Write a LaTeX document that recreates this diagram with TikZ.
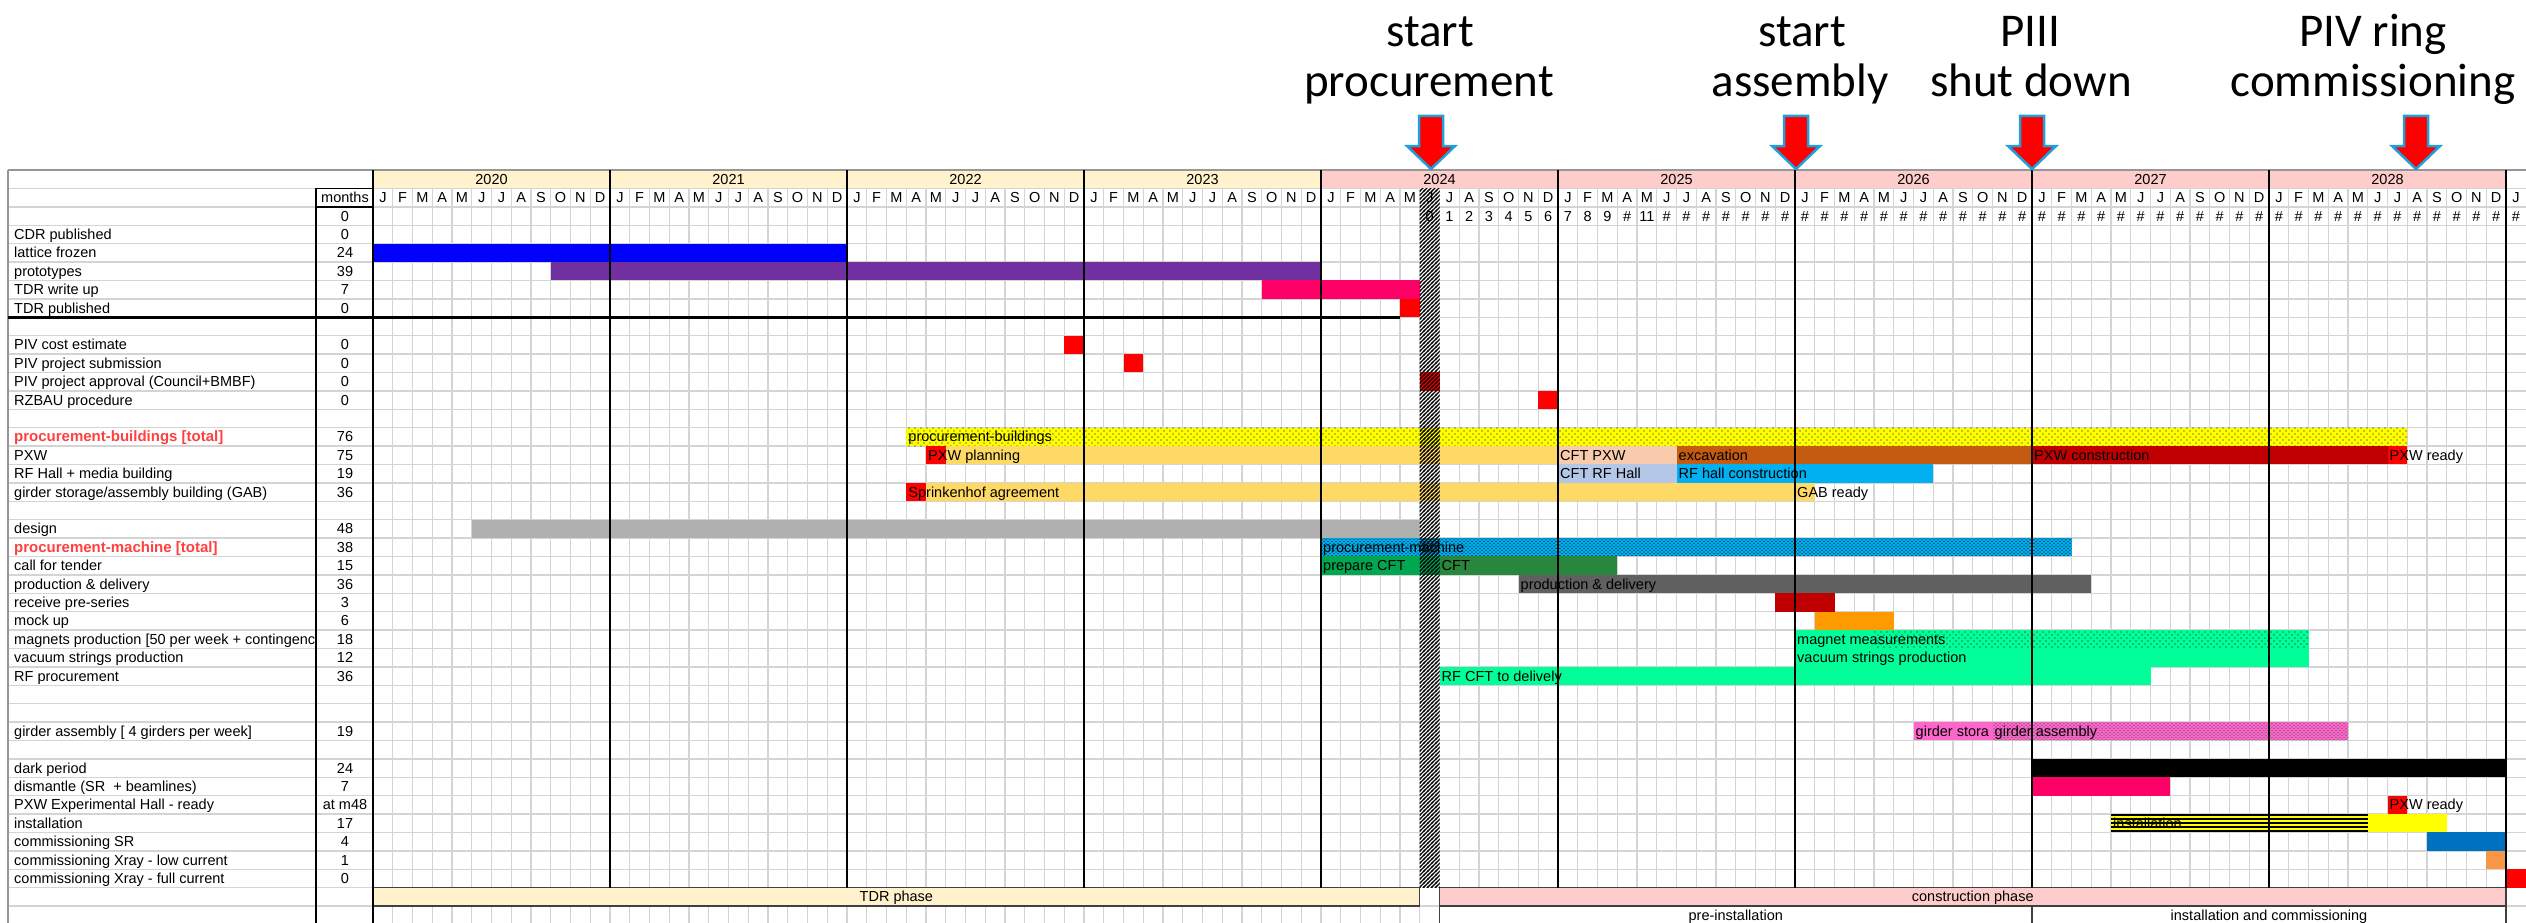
\documentclass[tikz,border=0pt]{standalone}
\usepackage{fontspec}
\setmainfont{Liberation Sans}
\newfontfamily\titlefont{Carlito}
\usetikzlibrary{patterns}

\definecolor{gridgray}{RGB}{212,212,212}
\definecolor{topgray}{RGB}{150,150,150}
\definecolor{hdryellow}{RGB}{255,242,204}
\definecolor{hdrpink}{RGB}{255,204,204}
\definecolor{latblue}{RGB}{0,0,255}
\definecolor{protopurple}{RGB}{112,48,160}
\definecolor{hotpink}{RGB}{255,0,102}
\definecolor{xlred}{RGB}{255,0,0}
\definecolor{dkred}{RGB}{192,0,0}
\definecolor{procyellow}{RGB}{255,255,0}
\definecolor{lightorange}{RGB}{255,217,102}
\definecolor{peach}{RGB}{248,203,173}
\definecolor{excav}{RGB}{197,90,17}
\definecolor{paleblue}{RGB}{180,199,231}
\definecolor{skyblue}{RGB}{0,176,240}
\definecolor{designgray}{RGB}{176,176,176}
\definecolor{prepgreen}{RGB}{0,166,80}
\definecolor{cftgreen}{RGB}{40,135,60}
\definecolor{prodgray}{RGB}{96,96,96}
\definecolor{mockorange}{RGB}{255,153,0}
\definecolor{mint}{RGB}{0,255,153}
\definecolor{girderpink}{RGB}{255,102,204}
\definecolor{commblue}{RGB}{0,112,192}
\definecolor{commorange}{RGB}{247,150,70}
\definecolor{labelred}{RGB}{255,64,64}
\definecolor{arrowblue}{RGB}{30,160,220}
\definecolor{boxgray}{RGB}{64,64,64}

\pgfdeclarepatternformonly{sparsedots}{\pgfqpoint{-1pt}{-1pt}}{\pgfqpoint{7pt}{7pt}}{\pgfqpoint{6pt}{6pt}}{%
  \pgfpathcircle{\pgfqpoint{0pt}{0pt}}{0.6pt}%
  \pgfpathcircle{\pgfqpoint{3pt}{3pt}}{0.6pt}%
  \pgfusepath{fill}}
\pgfdeclarepatternformonly{densedots}{\pgfqpoint{-1pt}{-1pt}}{\pgfqpoint{5pt}{4.5pt}}{\pgfqpoint{4pt}{3.5pt}}{%
  \pgfpathcircle{\pgfqpoint{0pt}{0pt}}{0.6pt}%
  \pgfpathcircle{\pgfqpoint{2pt}{1.75pt}}{0.6pt}%
  \pgfusepath{fill}}
\pgfdeclarepatternformonly{hatchne}{\pgfqpoint{-1pt}{-1pt}}{\pgfqpoint{5pt}{5pt}}{\pgfqpoint{4pt}{4pt}}{%
  \pgfsetlinewidth{1.3pt}%
  \pgfpathqmoveto{-1pt}{-1pt}\pgfpathqlineto{5pt}{5pt}\pgfusepath{stroke}}

\newcommand\gb[4]{\fill[#4] (#2,#1) rectangle (#3,{#1+1});}
\newcommand\bt[4]{\node[bartext] (#1) at (#3,{#2+0.78}) {#4};}
\newcommand\milearrow[1]{\draw[mstone] ({#1-12},116) -- ({#1+12},116) -- ({#1+12},146) -- ({#1+24},146) -- (#1,169) -- ({#1-24},146) -- ({#1-12},146) -- cycle;}

\begin{document}
\begin{tikzpicture}[x=1pt,y=-1pt,
  txt/.style={font=\fontsize{14.5}{16}\selectfont, inner sep=0pt},
  bartext/.style={txt, anchor=base west, inner xsep=2pt},
  redlab/.style={txt, font=\fontsize{15}{17}\selectfont\bfseries, text=labelred, anchor=base west},
  title/.style={font=\titlefont\fontsize{47}{56}\selectfont, inner sep=0pt, anchor=base},
  grid/.style={draw=gridgray, line width=1.4pt},
  yearline/.style={draw=black, line width=1.3pt},
  phasebox/.style={draw=boxgray, line width=1.3pt},
  mstone/.style={fill=xlred, draw=arrowblue, line width=2.5pt, line join=miter}]
\useasboundingbox (0,0) rectangle (2526,923);
\fill[white] (0,0) rectangle (2526,923);

% ---- chart area: header fills and grid
\begin{scope}[shift={(373pt,-206.8pt)}, x=19.75pt, y=-18.4pt]
  \foreach \y in {0,...,3} \fill[hdryellow] ({12*\y},-2) rectangle ({12*\y+12},-1);
  \foreach \y in {4,...,8} \fill[hdrpink] ({12*\y},-2) rectangle ({12*\y+12},-1);
  \foreach \m in {0,...,108} \draw[grid] (\m,-1) -- (\m,39.5);
\end{scope}
\foreach \k in {0,...,40} \draw[grid] (8,{188.4+18.4*\k}) -- (2526,{188.4+18.4*\k});
\draw[draw=topgray, line width=1.4pt] (8,170) -- (2526,170);
\draw[draw=topgray, line width=1.2pt] (8,170) -- (8,923);

\begin{scope}[shift={(373pt,-206.8pt)}, x=19.75pt, y=-18.4pt]
  % hatched column background
  \fill[white] (53,-1) rectangle (54,37);
  % bars
  \gb{2}{0}{24}{latblue}
  \gb{3}{9}{48}{protopurple}
  \gb{4}{45}{53}{hotpink}
  \gb{5}{52}{53}{xlred}
  \gb{7}{35}{36}{xlred}
  \gb{8}{38}{39}{xlred}
  \gb{9}{53}{54}{xlred}
  \gb{10}{59}{60}{xlred}
  \gb{12}{27}{103}{procyellow}
  \fill[pattern=sparsedots, pattern color=black] (27,12) rectangle (103,13);
  \gb{13}{28}{29}{xlred}
  \gb{13}{29}{60}{lightorange}
  \gb{13}{60}{66}{peach}
  \gb{13}{66}{84}{excav}
  \gb{13}{84}{102}{dkred}
  \gb{13}{102}{103}{xlred}
  \gb{14}{60}{66}{paleblue}
  \gb{14}{66}{79}{skyblue}
  \gb{15}{27}{28}{xlred}
  \gb{15}{28}{73}{lightorange}
  \gb{17}{5}{53}{designgray}
  \gb{18}{48}{86}{skyblue}
  \fill[pattern=densedots, pattern color=black] (48,18) rectangle (86,19);
  \gb{19}{48}{54}{prepgreen}
  \gb{19}{54}{63}{cftgreen}
  \gb{20}{58}{87}{prodgray}
  \gb{21}{71}{74}{dkred}
  \gb{22}{73}{77}{mockorange}
  \gb{23}{72}{98}{mint}
  \fill[pattern=sparsedots, pattern color=black] (76,23) rectangle (98,24);
  \gb{24}{72}{98}{mint}
  \gb{25}{54}{90}{mint}
  \gb{28}{78}{82}{girderpink}
  \gb{28}{82}{100}{girderpink}
  \fill[pattern=densedots, pattern color=black!70] (82,28) rectangle (100,29);
  \gb{30}{84}{108}{black}
  \gb{31}{84}{91}{hotpink}
  \gb{32}{102}{103}{xlred}
  \gb{33}{88}{105}{procyellow}
  \gb{34}{104}{108}{commblue}
  \gb{35}{107}{108}{commorange}
  \gb{36}{108}{109}{xlred}

  % bar texts
  \bt{bpb}{12}{27}{procurement-buildings}
  \bt{bpxwp}{13}{28}{PXW planning}
  \bt{bcftpxw}{13}{60}{CFT PXW}
  \bt{bexc}{13}{66}{excavation}
  \bt{bpxwc}{13}{84}{PXW construction}
  \bt{bpxwr}{13}{102}{PXW ready}
  \bt{bcftrf}{14}{60}{CFT RF Hall}
  \bt{brfc}{14}{66}{RF hall construction}
  \bt{bspr}{15}{27}{Sprinkenhof agreement}
  \bt{bgab}{15}{72}{GAB ready}
  \bt{bpm}{18}{48}{procurement-machine}
  \bt{bprep}{19}{48}{prepare CFT}
  \bt{bcft}{19}{54}{CFT}
  \bt{bprod}{20}{58}{production \& delivery}
  \bt{bmag}{23}{72}{magnet measurements}
  \bt{bvac}{24}{72}{vacuum strings production}
  \bt{brf}{25}{54}{RF CFT to delively}
  \bt{bgs}{28}{78}{girder stora}
  \bt{bga}{28}{82}{girder assembly}
  \bt{bpxwr2}{32}{102}{PXW ready}
  \bt{binst}{33}{88}{installation}
  \foreach \s in {0.06,0.28,0.5,0.72,0.94} \draw[line width=1.7pt] (88,{33+\s}) -- (101,{33+\s});

  % phase rows
  \draw[phasebox, fill=hdryellow] (0,37) rectangle (53,38);
  \node[txt, anchor=base] (tdrph) at (26.5,37.78) {TDR phase};
  \draw[phasebox, fill=hdrpink] (54,37) rectangle (108,38);
  \node[txt, anchor=base] (conph) at (81,37.78) {construction phase};
  \fill[white] (54,38) rectangle (108,39.3);
  \draw[phasebox] (54,39.3) -- (54,38) -- (108,38) -- (108,39.3);
  \draw[phasebox] (84,38) -- (84,39.3);
  \node[txt, anchor=base] (preinst) at (69,38.78) {pre-installation};
  \node[txt, anchor=base] (instcom) at (96,38.78) {installation and commissioning};

  % year lines
  \foreach \y in {0,...,9} \draw[yearline] ({12*\y},-2) -- ({12*\y},37);

  % header texts
  \foreach \y/\yr in {0/2020,1/2021,2/2022,3/2023,4/2024,5/2025,6/2026,7/2027,8/2028}
    \node[txt, anchor=base] (yr\yr) at ({12*\y+6},-1.22) {\yr};
  \foreach \y in {0,...,8}
    \foreach \ml [count=\i from 0] in {J,F,M,A,M,J,J,A,S,O,N,D}
      \node[txt, anchor=base] (ml-\y-\i) at ({12*\y+\i+0.5},-0.22) {\ml};
  \node[txt, anchor=base] (ml-9-0) at (108.5,-0.22) {J};
  \foreach \m/\v in {53/0,54/1,55/2,56/3,57/4,58/5,59/6,60/7,61/8,62/9,63/\#,64/11}
    \node[txt, anchor=base] (n\m) at ({\m+0.5},0.78) {\v};
  \foreach \m in {65,...,108}
    \node[txt, anchor=base] (n\m) at ({\m+0.5},0.78) {\#};

  % hatched column overlay
  \fill[pattern=hatchne, pattern color=black] (53,-1) rectangle (54,37);
\end{scope}

% months column and borders
\draw[black, line width=1.3pt] (316,188.4) -- (316,923);
\draw[black, line width=1.3pt] (373,170) -- (373,923);
\draw[black, line width=1.3pt] (316,188.4) -- (373,188.4);
\draw[black, line width=2.2pt] (316,206.8) -- (373,206.8);
\draw[black, line width=2.6pt] (8,317.2) -- (1400,317.2);
\node[txt, anchor=base] (mhead) at (345,202.8) {months};

% row labels
\begin{scope}
\clip (8,170) rectangle (315,923);
\foreach \r/\t in {1/{CDR published},2/{lattice frozen},3/{prototypes},4/{TDR write up},5/{TDR published},7/{PIV cost estimate},8/{PIV project submission},9/{PIV project approval (Council+BMBF)},10/{RZBAU procedure},13/{PXW},14/{RF Hall + media building},15/{girder storage/assembly building (GAB)},17/{design},19/{call for tender},20/{production \& delivery},21/{receive pre-series},22/{mock up},23/{magnets production [50 per week + contingenc},24/{vacuum strings production},25/{RF procurement},28/{girder assembly [ 4 girders per week]},30/{dark period},31/{dismantle (SR\ \ + beamlines)},32/{PXW Experimental Hall - ready},33/{installation},34/{commissioning SR},35/{commissioning Xray - low current},36/{commissioning Xray - full current}}
  \node[txt, anchor=base west] (lab\r) at (14,{206.8+18.4*(\r+0.78)}) {\t};
\node[redlab] (lab12) at (14,{206.8+18.4*12.78}) {procurement-buildings [total]};
\node[redlab] (lab18) at (14,{206.8+18.4*18.78}) {procurement-machine [total]};
\end{scope}

% months values
\foreach \r/\v in {0/0,1/0,2/24,3/39,4/7,5/0,7/0,8/0,9/0,10/0,12/76,13/75,14/19,15/36,17/48,18/38,19/15,20/36,21/3,22/6,23/18,24/12,25/36,28/19,30/24,31/7,32/{at m48},33/17,34/4,35/1,36/0}
  \node[txt, anchor=base] (mv\r) at (345,{206.8+18.4*(\r+0.78)}) {\v};

% milestone annotations
\node[title] (t1a) at (1430,47) {start};
\node[title] (t1b) at (1429,97) {procurement};
\node[title] (t2a) at (1802,47) {start};
\node[title] (t2b) at (1800,97) {assembly};
\node[title] (t3a) at (2030,47) {PIII};
\node[title] (t3b) at (2031,97) {shut down};
\node[title] (t4a) at (2373,47) {PIV ring};
\node[title] (t4b) at (2373,97) {commissioning};
\milearrow{1431}
\milearrow{1796}
\milearrow{2032}
\milearrow{2416}
\end{tikzpicture}
\end{document}
